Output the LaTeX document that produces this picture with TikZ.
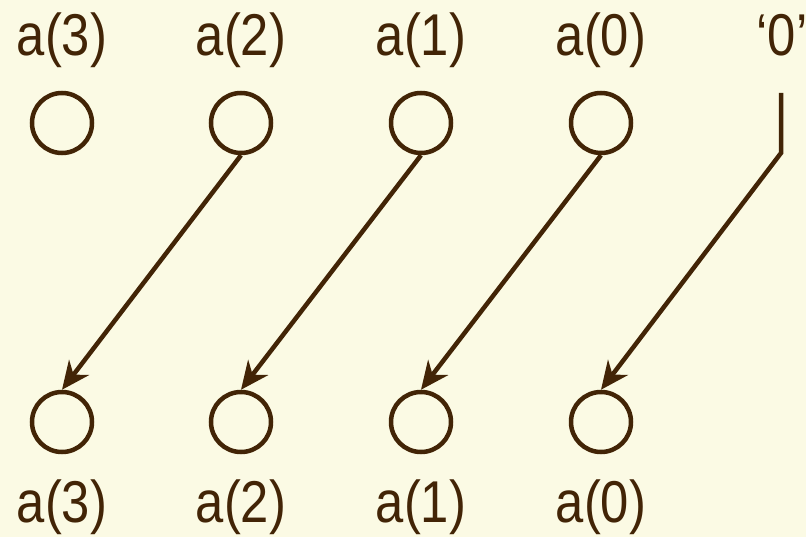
\documentclass[tikz,border=0pt]{standalone}
\usepackage{fontspec}
\newfontfamily\lblfont[FakeStretch=0.86]{Liberation Sans}
\usetikzlibrary{arrows.meta}
\definecolor{paper}{RGB}{251,250,228}
\definecolor{ink}{RGB}{66,36,6}

\begin{document}
\begin{tikzpicture}[x=1pt,y=-1pt,line width=4.5pt,draw=ink,
    bit/.style={circle,draw=ink,minimum size=60pt,inner sep=0pt},
    lbl/.style={anchor=base,text=ink,inner sep=0pt,font=\lblfont\fontsize{59}{62}\selectfont},
    shiftarrow/.style={-{Stealth[length=28pt,width=25pt,inset=9pt]}}]
        \fill[paper] (0,0) rectangle (806,537);
        \useasboundingbox (0,0) rectangle (806,537);
        % top row
        \node[bit] (t3) at (62,123) {};
        \node[bit] (t2) at (241,123) {};
        \node[bit] (t1) at (421,123) {};
        \node[bit] (t0) at (601,123) {};
        \node[lbl] (lt3) at (62,56) {a(3)};
        \node[lbl] (lt2) at (241,56) {a(2)};
        \node[lbl] (lt1) at (421,56) {a(1)};
        \node[lbl] (lt0) at (601,56) {a(0)};
        \node[lbl] (lz) at (782,56) {‘0’};
        % bottom row
        \node[bit] (b3) at (62,422) {};
        \node[bit] (b2) at (241,422) {};
        \node[bit] (b1) at (421,422) {};
        \node[bit] (b0) at (601,422) {};
        \node[lbl] (lb3) at (62,522) {a(3)};
        \node[lbl] (lb2) at (241,522) {a(2)};
        \node[lbl] (lb1) at (421,522) {a(1)};
        \node[lbl] (lb0) at (601,522) {a(0)};
        % shifts
        \draw[shiftarrow] (t2.south) -- (b3.north);
        \draw[shiftarrow] (t1.south) -- (b2.north);
        \draw[shiftarrow] (t0.south) -- (b1.north);
        \coordinate (z1) at (781,93);
        \coordinate (z2) at (781,153);
        \draw[shiftarrow] (z1) -- (z2) -- (b0.north);
      \end{tikzpicture}
\end{document}
